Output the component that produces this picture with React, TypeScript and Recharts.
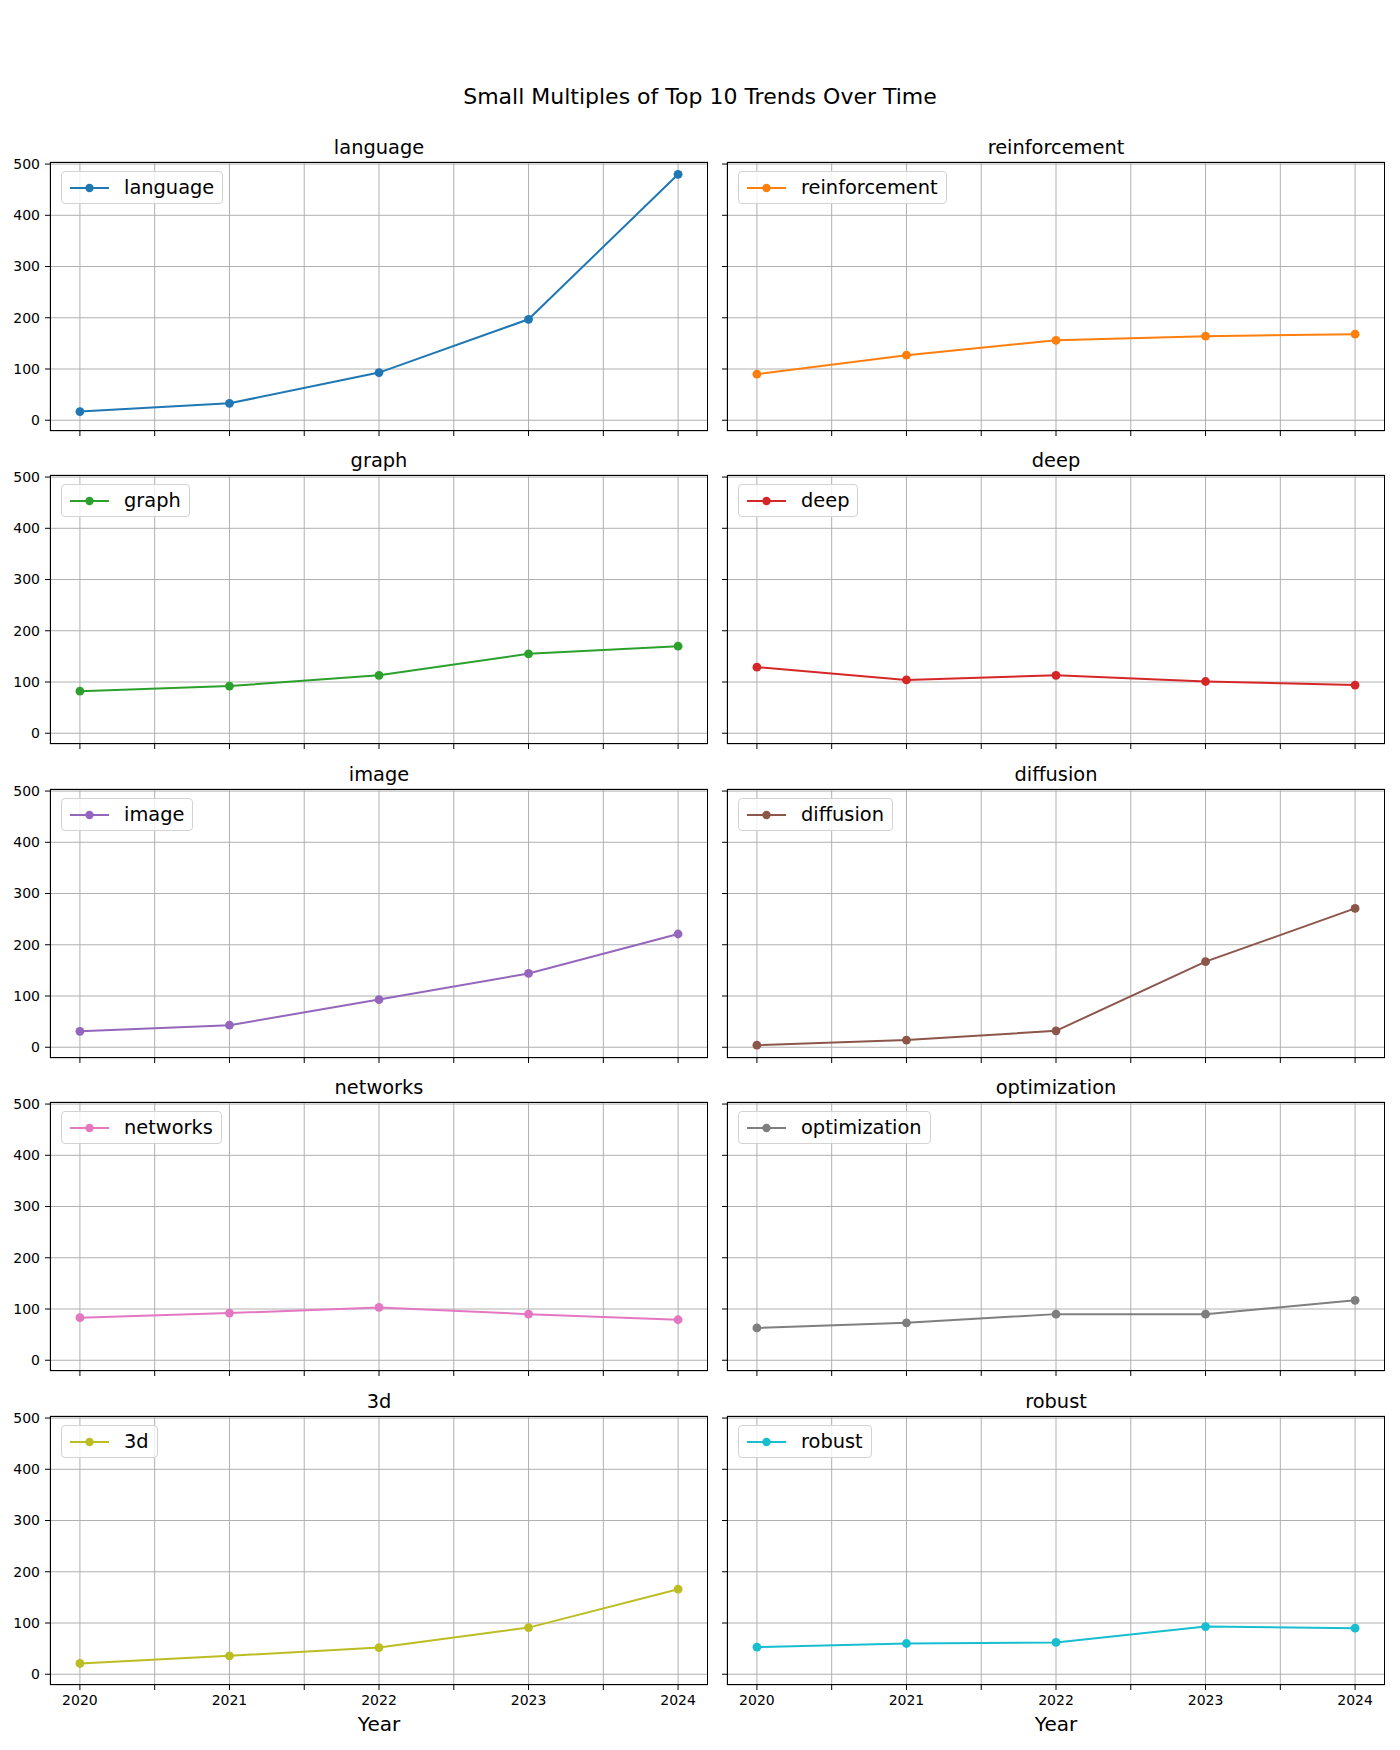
import * as React from 'react';
import { LineChart, Line, XAxis, YAxis, CartesianGrid } from 'recharts';

const years = [2020, 2021, 2022, 2023, 2024];
const xTicks = [2020, 2020.5, 2021, 2021.5, 2022, 2022.5, 2023, 2023.5, 2024];
const yTicks = [0, 100, 200, 300, 400, 500];

const topics = [
  'language',
  'reinforcement',
  'graph',
  'deep',
  'image',
  'diffusion',
  'networks',
  'optimization',
  '3d',
  'robust',
];

const language = [17, 33, 93, 197, 480];
const reinforcement = [90, 127, 156, 164, 168];
const graph = [82, 92, 113, 155, 170];
const deep = [129, 104, 113, 101, 94];
const image = [31, 43, 93, 144, 221];
const diffusion = [4, 14, 32, 167, 271];
const networks = [83, 92, 103, 90, 79];
const optimization = [63, 73, 90, 90, 117];
const threeD = [21, 36, 52, 91, 166];
const robust = [53, 60, 62, 93, 90];

const seriesByTopic: Record<string, number[]> = {
  language,
  reinforcement,
  graph,
  deep,
  image,
  diffusion,
  networks,
  optimization,
  '3d': threeD,
  robust,
};

const colors = [
  '#1f77b4',
  '#ff7f0e',
  '#2ca02c',
  '#d62728',
  '#9467bd',
  '#8c564b',
  '#e377c2',
  '#7f7f7f',
  '#bcbd22',
  '#17becf',
];

const FONT = '"DejaVu Sans", sans-serif';
const PLOT_W = 658;
const PLOT_H = 269;
const COL_LEFT = [50, 727];
const ROW_TOP = [162, 475, 789, 1102, 1416];
const X_AXIS_H = 40;
const TOP_PAD = 10;

function LegendBox({ name, color }: { name: string; color: string }) {
  return (
    <div
      style={{
        display: 'flex',
        alignItems: 'center',
        height: 33,
        boxSizing: 'border-box',
        padding: '0 8px',
        border: '1px solid #d3d3d3',
        borderRadius: 4,
        background: 'rgba(255,255,255,0.8)',
        fontFamily: FONT,
        fontSize: 19.4,
        color: '#000',
        whiteSpace: 'nowrap',
      }}
    >
      <svg width={39} height={12} style={{ marginRight: 15 }}>
        <line x1={0} y1={6} x2={39} y2={6} stroke={color} strokeWidth={2} />
        <circle cx={19.5} cy={6} r={4.2} fill={color} />
      </svg>
      <span>{name}</span>
    </div>
  );
}

function Panel({ index }: { index: number }) {
  const name = topics[index];
  const color = colors[index];
  const col = index % 2;
  const row = Math.floor(index / 2);
  const isBottom = row === ROW_TOP.length - 1;
  const yAxisW = col === 0 ? 50 : 20;
  const plotLeft = COL_LEFT[col];
  const plotTop = ROW_TOP[row];
  const values = seriesByTopic[name];
  const data = years.map((year, i) => ({ year, value: values[i] }));
  const tickStyle = { fontFamily: FONT, fontSize: 14, fill: '#000' };

  return (
    <>
      <div
        style={{
          position: 'absolute',
          left: plotLeft,
          top: plotTop - 26,
          width: PLOT_W,
          textAlign: 'center',
          fontFamily: FONT,
          fontSize: 19.4,
          color: '#000',
        }}
      >
        {name}
      </div>
      <div style={{ position: 'absolute', left: plotLeft - yAxisW, top: plotTop - TOP_PAD }}>
        <LineChart
          width={PLOT_W + yAxisW}
          height={PLOT_H + X_AXIS_H + TOP_PAD}
          data={data}
          margin={{ top: TOP_PAD, right: 0, bottom: 0, left: 0 }}
        >
          <CartesianGrid stroke="#b0b0b0" strokeWidth={1} />
          <XAxis
            type="number"
            dataKey="year"
            domain={[2019.8, 2024.2]}
            allowDataOverflow
            ticks={xTicks}
            interval={0}
            height={X_AXIS_H}
            axisLine={false}
            tickLine={{ stroke: '#000' }}
            tickSize={5}
            tickMargin={5}
            tick={tickStyle}
            tickFormatter={(v: number) => (isBottom && Number.isInteger(v) ? String(v) : '')}
          />
          <YAxis
            type="number"
            domain={[-21, 504]}
            allowDataOverflow
            ticks={yTicks}
            interval={0}
            width={yAxisW}
            axisLine={false}
            tickLine={{ stroke: '#000' }}
            tickSize={5}
            tickMargin={5}
            tick={tickStyle}
            tickFormatter={(v: number) => (col === 0 ? String(v) : '')}
          />
          <Line
            type="linear"
            dataKey="value"
            name={name}
            stroke={color}
            strokeWidth={2}
            dot={{ r: 4.4, fill: color, stroke: color, strokeWidth: 0 }}
            activeDot={false}
            isAnimationActive={false}
          />
        </LineChart>
      </div>
      <div style={{ position: 'absolute', left: plotLeft + 11, top: plotTop + 9 }}>
        <LegendBox name={name} color={color} />
      </div>
      <div
        style={{
          position: 'absolute',
          left: plotLeft,
          top: plotTop,
          width: PLOT_W,
          height: PLOT_H,
          boxSizing: 'border-box',
          border: '1px solid #000',
          pointerEvents: 'none',
        }}
      />
      {isBottom ? (
        <div
          style={{
            position: 'absolute',
            left: plotLeft,
            top: 1712,
            width: PLOT_W,
            textAlign: 'center',
            fontFamily: FONT,
            fontSize: 20,
            color: '#000',
          }}
        >
          Year
        </div>
      ) : null}
    </>
  );
}

export default function App() {
  return (
    <div style={{ position: 'relative', width: 1400, height: 1750, background: '#fff', overflow: 'hidden' }}>
      <style>{'body{margin:0}'}</style>
      <div
        style={{
          position: 'absolute',
          left: 0,
          top: 84,
          width: 1400,
          textAlign: 'center',
          fontFamily: FONT,
          fontSize: 22,
          color: '#000',
        }}
      >
        Small Multiples of Top 10 Trends Over Time
      </div>
      {topics.map((_, i) => (
        <Panel key={topics[i]} index={i} />
      ))}
    </div>
  );
}
